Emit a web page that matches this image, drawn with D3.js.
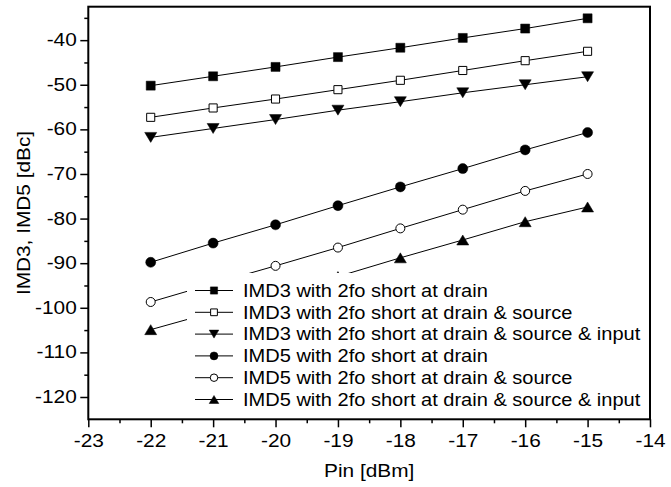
<!DOCTYPE html>
<html><head><meta charset="utf-8">
<script src="https://cdn.jsdelivr.net/npm/d3@7"></script>
<style>body{margin:0;background:#fff} text{font-family:"Liberation Sans",Arial,sans-serif;}</style>
</head><body><svg id="c" width="671" height="487"></svg>
<script>
const pin = [-22, -21, -20, -19, -18, -17, -16, -15];
const imd3Drain = [-50.2, -48.1, -46.0, -43.8, -41.7, -39.5, -37.4, -35.1];
const imd3DrainSource = [-57.3, -55.2, -53.2, -51.1, -49.0, -46.8, -44.6, -42.5];
const imd3DrainSourceInput = [-61.8, -59.8, -57.8, -55.7, -53.8, -51.8, -50.0, -48.2];
const imd5Drain = [-89.8, -85.5, -81.4, -77.1, -72.9, -68.8, -64.6, -60.7];
const imd5DrainSource = [-98.7, -94.6, -90.6, -86.5, -82.2, -78.0, -73.8, -70.0];
const imd5DrainSourceInput = [-104.9, -101.0, -97.0, -93.0, -88.8, -84.8, -80.7, -77.4];
const seriesNames = [
  "IMD3 with 2fo short at drain",
  "IMD3 with 2fo short at drain & source",
  "IMD3 with 2fo short at drain & source & input",
  "IMD5 with 2fo short at drain",
  "IMD5 with 2fo short at drain & source",
  "IMD5 with 2fo short at drain & source & input"
];
const seriesMarkers = ["squareFill", "squareOpen", "triDown", "circleFill", "circleOpen", "triUp"];
const xTickValues = [-23, -22, -21, -20, -19, -18, -17, -16, -15, -14];
const yTickValues = [-120, -110, -100, -90, -80, -70, -60, -50, -40];
const xMinorValues = [-22.5, -21.5, -20.5, -19.5, -18.5, -17.5, -16.5, -15.5, -14.5];
const yMinorValues = [-115, -105, -95, -85, -75, -65, -55, -45, -35];
const xTitle = "Pin [dBm]";
const yTitle = "IMD3, IMD5 [dBc]";

const allSeries = [imd3Drain, imd3DrainSource, imd3DrainSourceInput, imd5Drain, imd5DrainSource, imd5DrainSourceInput];

const FS = 17.5;     // font size
const SX = 1.19;     // glyph stretch along text direction (axis text)
const SXL = 1.145;   // glyph stretch for legend text
const L = 88.3, R = 650, T = 6.7, B = 419.3;
const FONT = '"Liberation Sans",Arial,sans-serif';

const svg = d3.select("#c");
const x = d3.scaleLinear().domain([-23, -14]).range([L, R]);
const y = d3.scaleLinear().domain([-125, -32.5]).range([B, T]);

function markerPath(type, s) {
  const g = d3.path();
  if (type.startsWith("square")) {
    const h = 4.5 * s; g.rect(-h, -h, 2 * h, 2 * h);
  } else if (type.startsWith("circle")) {
    g.arc(0, 0, 5 * s, 0, 2 * Math.PI);
  } else if (type === "triDown") {
    const w = 6 * s, h = 5 * s;
    g.moveTo(-w, -h); g.lineTo(w, -h); g.lineTo(0, h); g.closePath();
  } else if (type === "triUp") {
    const w = 6 * s, h = 5 * s;
    g.moveTo(-w, h); g.lineTo(w, h); g.lineTo(0, -h); g.closePath();
  }
  return g.toString();
}
function isOpen(type) { return type.endsWith("Open"); }

// series
const plot = svg.append("g");
allSeries.forEach((vals, i) => {
  const pts = pin.map((p, j) => [p, vals[j]]);
  plot.append("path")
    .attr("d", d3.line().x(d => x(d[0])).y(d => y(d[1]))(pts))
    .attr("fill", "none").attr("stroke", "#000").attr("stroke-width", 1);
  const type = seriesMarkers[i];
  plot.selectAll(null).data(pts).enter().append("path")
    .attr("transform", d => `translate(${x(d[0])},${y(d[1])})`)
    .attr("d", markerPath(type, isOpen(type) ? 0.9 : 1))
    .attr("fill", isOpen(type) ? "#fff" : "#000")
    .attr("stroke", "#000").attr("stroke-width", isOpen(type) ? 1 : 0.5);
});

// legend
const lg = svg.append("g");
const rowY0 = 290.5, rowDY = 21.8;
lg.append("rect").attr("x", 187).attr("y", 273).attr("width", 648 - 187).attr("height", 410 - 273).attr("fill", "#fff");
seriesNames.forEach((name, i) => {
  const yy = rowY0 + i * rowDY;
  lg.append("line").attr("x1", 195).attr("x2", 233).attr("y1", yy).attr("y2", yy).attr("stroke", "#000").attr("stroke-width", 1);
  const type = seriesMarkers[i];
  lg.append("path").attr("transform", `translate(214,${yy})`)
    .attr("d", markerPath(type, isOpen(type) ? 0.75 : 0.8))
    .attr("fill", isOpen(type) ? "#fff" : "#000")
    .attr("stroke", "#000").attr("stroke-width", isOpen(type) ? 1 : 0.5);
  lg.append("text").attr("transform", `translate(243,${yy + FS * 0.36}) scale(${SXL},1)`)
    .attr("font-size", FS).attr("font-family", FONT).attr("fill", "#000").text(name);
});

// axes
const xAxis = svg.append("g").attr("transform", `translate(0,${B})`)
  .call(d3.axisBottom(x).tickValues(xTickValues).tickSize(8).tickPadding(7.7).tickFormat(d => String(d)));
const xAxisMinor = svg.append("g").attr("transform", `translate(0,${B})`)
  .call(d3.axisBottom(x).tickValues(xMinorValues).tickSize(4).tickFormat(""));
const yAxis = svg.append("g").attr("transform", `translate(${L},0)`)
  .call(d3.axisLeft(y).tickValues(yTickValues).tickSize(8).tickPadding(3.6).tickFormat(d => String(d)));
const yAxisMinor = svg.append("g").attr("transform", `translate(${L},0)`)
  .call(d3.axisLeft(y).tickValues(yMinorValues).tickSize(4).tickFormat(""));

[xAxis, xAxisMinor, yAxis, yAxisMinor].forEach(a => {
  a.select(".domain").remove();
  a.selectAll(".tick line").attr("stroke", "#000").attr("stroke-width", 1.5);
  a.selectAll("text").attr("font-size", FS).attr("font-family", FONT).attr("fill", "#000");
});
xAxis.selectAll("text").attr("transform", `scale(${SX},1)`);
yAxis.selectAll("text").attr("x", -11.6 / SX).attr("transform", `scale(${SX},1)`);

// frame
svg.append("rect").attr("x", L).attr("y", T).attr("width", R - L).attr("height", B - T)
  .attr("fill", "none").attr("stroke", "#000").attr("stroke-width", 2);

// titles
svg.append("text").attr("transform", `translate(${(L + R) / 2},477) scale(${SX},1)`)
  .attr("text-anchor", "middle").attr("font-size", FS).attr("font-family", FONT).attr("fill", "#000").text(xTitle);
svg.append("text").attr("transform", `translate(30,${(T + B) / 2}) rotate(-90) scale(${SX},1)`)
  .attr("text-anchor", "middle").attr("font-size", FS).attr("font-family", FONT).attr("fill", "#000").text(yTitle);
</script>
</body></html>
